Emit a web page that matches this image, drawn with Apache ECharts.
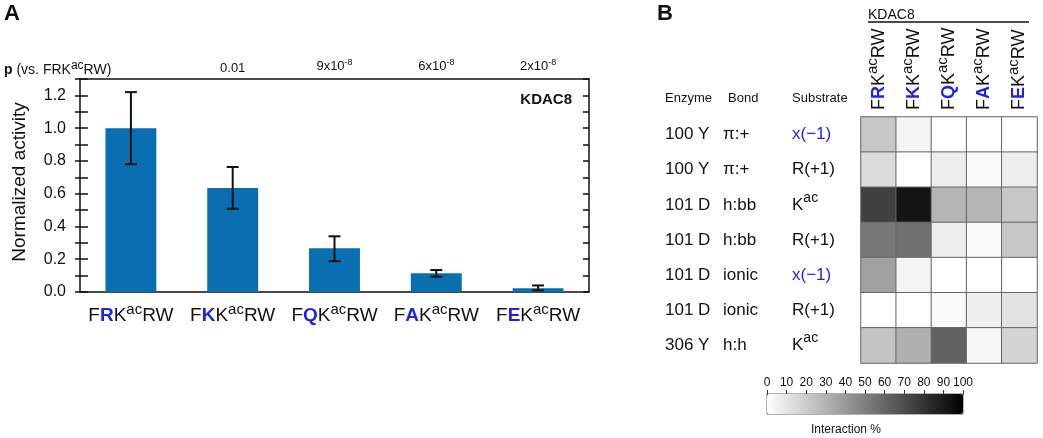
<!DOCTYPE html>
<html><head><meta charset="utf-8">
<script src="https://cdn.jsdelivr.net/npm/echarts@6/dist/echarts.min.js"></script>
<style>html,body{margin:0;padding:0;background:#fff}#c{width:1043px;height:438px}</style>
</head><body><div id="c"></div>
<script>
// ---------- Panel A data ----------
const peptideVariable = ['R', 'K', 'Q', 'A', 'E'];
const activity = [1.0, 0.634, 0.267, 0.114, 0.023];
const errLow = [0.78, 0.508, 0.188, 0.094, 0.010];
const errHigh = [1.22, 0.763, 0.340, 0.134, 0.040];
const pBase = ['', '0.01', '9x10', '6x10', '2x10'];
const pExp = ['', '', '-8', '-8', '-8'];

// ---------- Panel B data ----------
const enzyme = ['100 Y', '100 Y', '101 D', '101 D', '101 D', '101 D', '306 Y'];
const bond = ['π:+', 'π:+', 'h:bb', 'h:bb', 'ionic', 'ionic', 'h:h'];
const substrate = ['x(−1)', 'R(+1)', 'Kac', 'R(+1)', 'x(−1)', 'R(+1)', 'Kac'];
const interaction = [
  [22, 4, 0, 0, 0],
  [14, 0, 7, 2, 7],
  [75, 92, 29, 29, 22],
  [53, 56, 7, 2, 22],
  [37, 4, 0, 0, 0],
  [0, 0, 2, 6, 11],
  [23, 31, 62, 3, 17]
];

const FONT = '"Liberation Sans", Arial, Helvetica, sans-serif';
const BLUE = '#1f1ff0';
const INK = '#111';

const peptideIds = peptideVariable.map((_, i) => String(i));
const rowIds = enzyme.map((_, i) => String(i));
const heatData = [];
interaction.forEach((row, r) => row.forEach((v, c) => heatData.push([c, r, v])));

const chart = echarts.init(document.getElementById('c'), null, {renderer: 'canvas'});

const pepRich = (size, supSize, raise) => ({
  n: {fontSize: size, color: INK, fontFamily: FONT},
  v: {fontSize: size, color: BLUE, fontWeight: 'bold', fontFamily: FONT},
  s: {fontSize: supSize, color: INK, fontFamily: FONT, padding: [0, 0, raise, 0]}
});

const axisLineStyle = {color: INK, width: 1.5};

const option = {
  animation: false,
  textStyle: {fontFamily: FONT},
  grid: [
    {left: 80, top: 79, width: 509, height: 213},
    {left: 861, top: 117, width: 176, height: 246},
    {left: 767, top: 394, width: 196, height: 20, show: true, borderColor: '#666', borderWidth: 1, backgroundColor: 'transparent'}
  ],
  xAxis: [
    {type: 'category', gridIndex: 0, position: 'bottom', data: peptideIds,
      axisLine: {onZero: false, lineStyle: axisLineStyle},
      axisTick: {length: 7, lineStyle: axisLineStyle},
      axisLabel: {margin: 10, interval: 0,
        formatter: (v, i) => `{n|F}{v|${peptideVariable[i]}}{n|K}{s|ac}{n|RW}`,
        rich: pepRich(19, 15, 12)}},
    {type: 'category', gridIndex: 0, position: 'top', data: peptideIds,
      axisLine: {onZero: false, lineStyle: axisLineStyle},
      axisTick: {inside: true, length: 7, lineStyle: axisLineStyle},
      axisLabel: {margin: 4, interval: 0,
        formatter: (v, i) => pBase[i] ? (`{n|${pBase[i]}}` + (pExp[i] ? `{s|${pExp[i]}}` : '')) : '',
        rich: {n: {fontSize: 13, color: INK}, s: {fontSize: 9, color: INK, padding: [0, 0, 8, 0]}}}},
    {type: 'category', gridIndex: 1, position: 'top', data: peptideIds,
      axisLine: {show: false}, axisTick: {show: false}, splitArea: {show: false},
      axisLabel: {rotate: -90, margin: 7, interval: 0,
        formatter: (v, i) => `{n|F}{v|${peptideVariable[i]}}{n|K}{s|ac}{n|RW}`,
        rich: pepRich(18, 15, 12)}},
    {type: 'value', gridIndex: 2, position: 'top', min: 0, max: 100, interval: 10,
      axisLine: {show: true, onZero: false, lineStyle: {color: '#333', width: 1}},
      axisTick: {show: true, length: 4, lineStyle: {color: '#333'}},
      splitLine: {show: false},
      axisLabel: {fontSize: 12, color: INK, margin: 5}}
  ],
  yAxis: [
    {type: 'value', gridIndex: 0, position: 'left', min: 0, max: 1.3, interval: 0.1,
      axisLine: {show: true, onZero: false, lineStyle: axisLineStyle},
      axisTick: {show: true, inside: true, length: 8, lineStyle: axisLineStyle},
      splitLine: {show: false},
      axisLabel: {fontSize: 16, color: INK, margin: 14,
        formatter: v => (Math.round(v * 10) % 2 === 0 ? v.toFixed(1) : '')}},
    {type: 'value', gridIndex: 0, position: 'left', min: 0, max: 1.3, interval: 0.1,
      axisLine: {show: false},
      axisTick: {show: true, inside: false, length: 5, lineStyle: axisLineStyle},
      splitLine: {show: false}, axisLabel: {show: false}},
    {type: 'value', gridIndex: 0, position: 'right', min: 0, max: 1.3, interval: 0.1,
      axisLine: {show: true, onZero: false, lineStyle: axisLineStyle},
      axisTick: {show: true, inside: true, length: 6, lineStyle: axisLineStyle},
      splitLine: {show: false}, axisLabel: {show: false}},
    {type: 'category', gridIndex: 1, data: rowIds, inverse: true,
      axisLine: {show: false}, axisTick: {show: false}, splitArea: {show: false},
      axisLabel: {align: 'left', margin: 196, interval: 0,
        formatter: (v) => {
          const i = +v;
          let s;
          if (substrate[i] === 'Kac') s = '{s|K}{sup|ac}';
          else if (substrate[i].startsWith('x')) s = `{sb|${substrate[i]}}`;
          else s = `{s|${substrate[i]}}`;
          return `{e|${enzyme[i]}}{b|${bond[i]}}` + s;
        },
        rich: {
          e: {fontSize: 17, color: INK, width: 58},
          b: {fontSize: 17, color: INK, width: 69},
          s: {fontSize: 17, color: INK},
          sb: {fontSize: 17, color: BLUE},
          sup: {fontSize: 14, color: INK, padding: [0, 0, 14, 0]}
        }}},
    {type: 'value', gridIndex: 2, show: false, min: 0, max: 1}
  ],
  visualMap: {
    type: 'continuous', min: 0, max: 100, seriesIndex: 2, orient: 'horizontal',
    left: 767, top: 394, itemWidth: 20, itemHeight: 196, padding: 0,
    calculable: false, text: null, hoverLink: false,
    inRange: {color: ['#ffffff', '#000000']}
  },
  series: [
    {type: 'bar', xAxisIndex: 0, yAxisIndex: 0, data: activity, barWidth: '50%',
      itemStyle: {color: '#0a6fb1'}, silent: true},
    {type: 'custom', xAxisIndex: 0, yAxisIndex: 0, z: 5, silent: true,
      data: activity.map((v, i) => [i, errLow[i], errHigh[i]]),
      renderItem: (params, api) => {
        const lo = api.coord([api.value(0), api.value(1)]);
        const hi = api.coord([api.value(0), api.value(2)]);
        const hw = 6;
        const st = {stroke: '#111', lineWidth: 2};
        return {type: 'group', children: [
          {type: 'line', shape: {x1: lo[0], y1: lo[1], x2: hi[0], y2: hi[1]}, style: st},
          {type: 'line', shape: {x1: lo[0] - hw, y1: lo[1], x2: lo[0] + hw, y2: lo[1]}, style: st},
          {type: 'line', shape: {x1: hi[0] - hw, y1: hi[1], x2: hi[0] + hw, y2: hi[1]}, style: st}
        ]};
      }},
    {type: 'heatmap', xAxisIndex: 2, yAxisIndex: 3, data: heatData, silent: true,
      itemStyle: {borderColor: '#666', borderWidth: 1}}
  ],
  graphic: [
    {type: 'text', x: 4, y: 3, style: {text: 'A', font: `bold 22px ${FONT}`, fill: INK}},
    {type: 'text', x: 657, y: 3, style: {text: 'B', font: `bold 22px ${FONT}`, fill: INK}},
    {type: 'text', x: 4, y: 70, style: {
      text: '{b|p}{n| (vs. FRK}{s|ac}{n|RW)}', verticalAlign: 'middle',
      rich: {b: {fontSize: 14, fontWeight: 'bold', fill: INK}, n: {fontSize: 14, fill: INK},
        s: {fontSize: 12, fill: INK, padding: [0, 0, 9, 0]}}}},
    {type: 'text', x: 572, y: 100, style: {text: 'KDAC8', font: `bold 15px ${FONT}`, fill: INK, align: 'right', verticalAlign: 'middle'}},
    {type: 'text', x: 20, y: 182, rotation: Math.PI / 2, style: {text: 'Normalized activity', font: `19px ${FONT}`, fill: INK, align: 'center', verticalAlign: 'middle'}},
    {type: 'text', x: 868, y: 15, style: {text: 'KDAC8', font: `14px ${FONT}`, fill: INK, verticalAlign: 'middle'}},
    {type: 'line', shape: {x1: 868, y1: 22, x2: 1029, y2: 22}, style: {stroke: INK, lineWidth: 1.5}},
    {type: 'text', x: 665, y: 98, style: {text: 'Enzyme', font: `13px ${FONT}`, fill: INK, verticalAlign: 'middle'}},
    {type: 'text', x: 728, y: 98, style: {text: 'Bond', font: `13px ${FONT}`, fill: INK, verticalAlign: 'middle'}},
    {type: 'text', x: 792, y: 98, style: {text: 'Substrate', font: `13px ${FONT}`, fill: INK, verticalAlign: 'middle'}},
    {type: 'text', x: 846, y: 430, style: {text: 'Interaction %', font: `12px ${FONT}`, fill: INK, align: 'center', verticalAlign: 'middle'}}
  ]
};
chart.setOption(option);
</script>
</body></html>
